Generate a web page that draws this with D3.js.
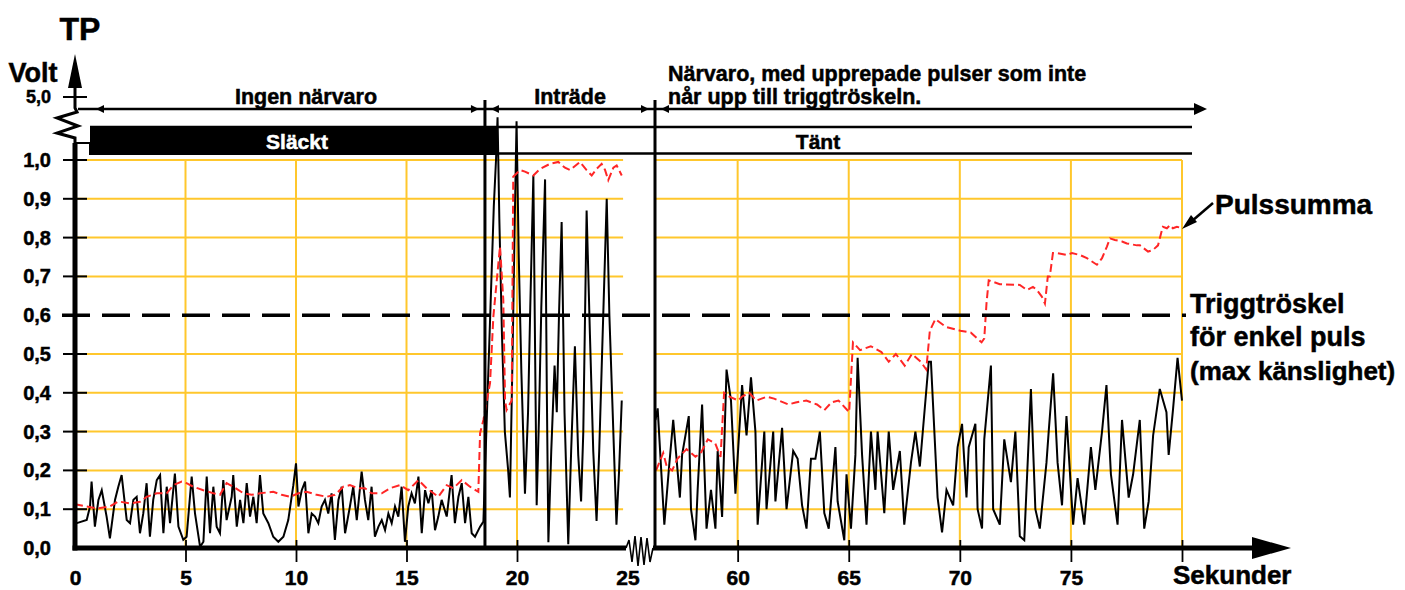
<!DOCTYPE html>
<html><head><meta charset="utf-8">
<script src="https://cdn.jsdelivr.net/npm/d3@7"></script>
<style>
html,body{margin:0;padding:0;background:#fff;}
svg{display:block;}
text{font-family:"Liberation Sans",Arial,sans-serif;font-weight:bold;fill:#000;stroke:#000;stroke-width:0.5px;}
</style>
</head><body>
<svg id="c" width="1405" height="590"></svg>
<script>
// ---------- DATA ----------
const xTickValues = [5, 10, 15, 20, 60, 65, 70, 75, 80];
const xLabelValues = [0, 5, 10, 15, 20, 25, 60, 65, 70, 75];
const yLabelValues = [0, 0.1, 0.2, 0.3, 0.4, 0.5, 0.6, 0.7, 0.8, 0.9, 1.0];
const yTickValues = [0.1, 0.2, 0.3, 0.4, 0.5, 0.6, 0.7, 0.8, 0.9, 1.0];
const gridLevels = [0.1, 0.2, 0.3, 0.4, 0.5, 0.7, 0.8, 0.9, 1.0];
const threshold = 0.6;
const breakLeftEnd = 24.8, breakRightStart = 56.28, xEnd = 80;
const presenceStart = 18.55, lampOn = 19.1;
const topLabel = "5,0";
const phaseLabels = ["Ingen närvaro", "Inträde"];
const phaseText3 = ["Närvaro, med upprepade pulser som inte", "når upp till triggtröskeln."];
const stateLabels = ["Släckt", "Tänt"];
const triggText = ["Triggtröskel", "för enkel puls", "(max känslighet)"];

// black pulse signal: [seconds, volt]
const signalFirst = [
[0.08,.064],[0.53,.072],[0.68,.107],[0.75,.171],[0.9,.055],[1.06,.124],[1.21,.149],[1.43,.081],[1.58,.025],[1.81,.124],
[1.96,.158],[2.11,.188],[2.34,.072],[2.49,.064],[2.64,.124],[2.79,.132],[2.94,.038],[3.09,.089],[3.24,.167],[3.39,.029],
[3.54,.124],[3.7,.175],[3.85,.188],[4.0,.038],[4.15,.158],[4.3,.064],[4.52,.192],[4.68,.055],[4.9,.021],[5.05,.029],
[5.28,.184],[5.43,.089],[5.66,.003],[5.81,.016],[5.96,.184],[6.11,.038],[6.26,.158],[6.41,.055],[6.56,.038],[6.71,.175],
[6.86,.072],[7.09,.132],[7.16,.188],[7.32,.055],[7.47,.124],[7.62,.064],[7.77,.167],[7.92,.081],[8.07,.132],[8.22,.064],
[8.37,.188],[8.52,.089],[8.75,.064],[8.97,.029],[9.2,.016],[9.43,.029],[9.65,.072],[9.88,.162],[10.0,.218],[10.11,.107],
[10.26,.149],[10.41,.171],[10.56,.038],[10.71,.089],[10.86,.081],[11.01,.064],[11.16,.107],[11.31,.124],[11.46,.089],[11.61,.141],
[11.76,.021],[11.92,.124],[12.07,.158],[12.22,.038],[12.44,.107],[12.59,.158],[12.75,.072],[12.97,.197],[13.12,.124],[13.27,.072],
[13.42,.158],[13.57,.029],[13.73,.055],[13.88,.072],[14.03,.046],[14.18,.089],[14.33,.064],[14.48,.107],[14.63,.081],[14.78,.158],
[14.93,.016],[15.08,.107],[15.23,.141],[15.38,.115],[15.54,.184],[15.69,.038],[15.84,.149],[15.99,.115],[16.14,.149],[16.29,.046],
[16.44,.081],[16.59,.124],[16.82,.081],[17.04,.188],[17.19,.064],[17.35,.132],[17.5,.167],[17.65,.064],[17.8,.132],[17.95,.038],
[18.1,.029],[18.33,.055],[18.48,.068],
[18.63,.33],[18.8,.62],[18.95,.88],[19.05,1.0],[19.12,1.11],[19.2,.85],[19.32,.55],[19.45,.3],[19.6,.2],[19.68,.13],
[19.8,.5],[19.9,.85],[19.98,1.1],[20.08,.75],[20.2,.45],[20.36,.14],[20.5,.35],[20.6,.62],[20.74,.96],[20.82,.5],
[20.89,.11],[21.0,.35],[21.1,.62],[21.27,.95],[21.35,.4],[21.42,.015],[21.55,.25],[21.7,.47],[21.8,.35],[21.9,.6],
[22.02,.84],[22.15,.35],[22.32,.01],[22.45,.25],[22.62,.52],[22.77,.24],[22.9,.12],[23.0,.3],[23.15,.87],[23.3,.55],
[23.45,.25],[23.6,.07],[23.72,.25],[23.85,.5],[24.06,.9],[24.18,.6],[24.3,.4],[24.5,.06],[24.62,.2],[24.74,.38]
];
const signalSecond = [
[56.3,.33],[56.4,.36],[56.7,.06],[56.9,.20],[57.1,.33],[57.4,.13],[57.5,.24],[57.8,.34],[57.9,.10],[58.1,.02],
[58.2,.15],[58.4,.37],[58.6,.05],[58.8,.15],[59.0,.05],[59.1,.25],[59.3,.08],[59.5,.46],[59.7,.38],[59.9,.14],
[60.2,.42],[60.4,.29],[60.6,.44],[60.8,.30],[60.9,.06],[61.2,.30],[61.3,.10],[61.6,.30],[61.7,.12],[62.0,.31],
[62.2,.10],[62.5,.25],[62.7,.23],[62.9,.11],[63.1,.05],[63.3,.23],[63.5,.23],[63.7,.30],[63.9,.09],[64.1,.05],
[64.4,.26],[64.5,.12],[64.8,.02],[64.9,.19],[65.1,.05],[65.3,.24],[65.4,.49],[65.6,.24],[65.8,.06],[66.0,.30],
[66.2,.15],[66.3,.30],[66.6,.09],[66.8,.30],[67.0,.15],[67.3,.25],[67.5,.06],[67.8,.22],[68.0,.30],[68.2,.21],
[68.6,.48],[68.7,.48],[69.0,.13],[69.2,.04],[69.4,.15],[69.7,.11],[69.9,.26],[70.1,.32],[70.3,.13],[70.4,.26],
[70.7,.32],[70.8,.10],[71.0,.05],[71.1,.28],[71.4,.47],[71.5,.10],[71.8,.06],[72.0,.28],[72.3,.17],[72.5,.30],
[72.7,.03],[72.9,.02],[73.2,.41],[73.4,.10],[73.6,.05],[73.9,.22],[74.0,.30],[74.2,.45],[74.4,.22],[74.6,.11],
[74.8,.34],[75.1,.06],[75.3,.18],[75.6,.06],[75.9,.26],[76.1,.15],[76.4,.30],[76.6,.42],[76.8,.19],[77.1,.06],
[77.3,.33],[77.6,.13],[77.8,.19],[78.1,.33],[78.3,.05],[78.5,.12],[78.7,.29],[79.0,.41],[79.3,.35],[79.4,.24],
[79.6,.36],[79.8,.49],[80.0,.38]
];
// red pulse sum: [seconds, volt]
const pulseSumFirst = [
[0,.113],[0.53,.107],[0.98,.102],[1.58,.107],[1.96,.12],[2.49,.115],[2.94,.119],[3.24,.132],[3.7,.141],[4.15,.141],
[4.45,.162],[4.83,.171],[5.05,.167],[5.35,.158],[5.81,.149],[6.26,.141],[6.56,.137],[6.86,.167],[7.16,.158],[7.62,.141],
[7.99,.137],[8.37,.141],[8.97,.145],[9.35,.137],[9.73,.132],[10.11,.141],[10.48,.145],[10.94,.137],[11.39,.132],[11.76,.137],
[12.14,.158],[12.44,.162],[12.82,.154],[13.12,.154],[13.42,.141],[13.88,.141],[14.25,.154],[14.71,.162],[15.08,.149],[15.54,.175],
[15.91,.154],[16.44,.132],[16.82,.162],[17.12,.154],[17.5,.175],[17.87,.158],[18.25,.145],[18.33,.296],[18.48,.33],[18.78,.425],
[18.93,.596],[19.23,.777],[19.38,.64],[19.46,.38],[19.53,.356],[19.76,.38],[19.83,.957],[20.14,.974],[20.36,.97],[20.74,.96],
[21.04,.977],[21.49,.99],[21.87,.995],[22.17,.98],[22.4,.974],[22.85,.995],[23.15,.974],[23.38,.96],[23.6,.977],[23.83,.99],
[23.98,.975],[24.13,.948],[24.36,.98],[24.51,.986],[24.74,.96]
];
const pulseSumSecond = [
[56.33,.20],[56.65,.245],[56.81,.21],[57.05,.20],[57.29,.23],[57.7,.255],[58.1,.235],[58.34,.245],[58.66,.28],[58.99,.27],
[59.23,.235],[59.39,.40],[59.63,.39],[60.03,.38],[60.19,.39],[60.52,.40],[60.84,.38],[61.32,.39],[61.64,.385],[62.29,.37],
[62.61,.375],[63.09,.38],[63.57,.37],[63.9,.355],[64.22,.375],[64.54,.38],[65.02,.35],[65.19,.53],[65.51,.51],[65.99,.52],
[66.47,.505],[66.8,.48],[67.12,.50],[67.52,.47],[67.84,.50],[68.24,.48],[68.49,.46],[68.65,.56],[68.9,.59],[69.37,.57],
[70.02,.56],[70.5,.555],[70.98,.53],[71.1,.54],[71.2,.63],[71.3,.69],[71.8,.68],[72.7,.678],[73.02,.665],[73.29,.673],
[73.47,.665],[73.69,.648],[73.83,.63],[73.96,.70],[74.05,.70],[74.19,.76],[74.37,.76],[74.82,.755],[75.05,.76],[75.41,.755],
[75.72,.747],[76.17,.73],[76.4,.747],[76.62,.777],[76.76,.798],[76.98,.794],[77.3,.79],[77.52,.785],[77.97,.78],[78.11,.78],
[78.47,.764],[78.69,.768],[78.92,.78],[79.1,.82],[79.14,.828],[79.32,.824],[79.46,.832],[79.59,.824],[79.77,.828],[80,.824]
];

// ---------- SCALES ----------
const svg = d3.select("#c");
const x = d3.scaleLinear().domain([0, 25, breakRightStart, xEnd]).range([75, 627.5, 655, 1182]);
const y = d3.scaleLinear().domain([0, 1]).range([548, 160]);
const YELLOW = "#FFC72C", RED = "#FF2626";
const fmt = d => d3.format(".1f")(d).replace(".", ",");

// ---------- GRID ----------
const grid = svg.append("g");
grid.selectAll("line.h1").data(gridLevels).join("line").attr("class","h1")
  .attr("x1", x(0)).attr("x2", x(breakLeftEnd)).attr("y1", d => y(d)).attr("y2", d => y(d))
  .attr("stroke", YELLOW).attr("stroke-width", 2);
grid.selectAll("line.h2").data(gridLevels).join("line").attr("class","h2")
  .attr("x1", x(breakRightStart)).attr("x2", x(xEnd)).attr("y1", d => y(d)).attr("y2", d => y(d))
  .attr("stroke", YELLOW).attr("stroke-width", 2);
grid.selectAll("line.v").data(xTickValues).join("line").attr("class","v")
  .attr("x1", d => x(d)).attr("x2", d => x(d)).attr("y1", y(0)).attr("y2", y(1))
  .attr("stroke", YELLOW).attr("stroke-width", 2);

// ---------- TOP STRUCTURE ----------
const topG = svg.append("g");
topG.append("line").attr("x1", 78).attr("x2", 1196).attr("y1", 109).attr("y2", 109).attr("stroke", "#000").attr("stroke-width", 2.5);
topG.append("path").attr("d", "M1194,103 L1207,109 L1194,115 Z").attr("fill", "#000");
function arrowHead(tip, dir) {
  topG.append("path").attr("d", `M${tip},109 L${tip - dir*8},105 L${tip - dir*8},113 Z`).attr("fill", "#000");
}
arrowHead(96, -1); arrowHead(x(presenceStart) - 6, 1); arrowHead(x(presenceStart) + 6, -1);
arrowHead(x(breakRightStart) - 6, 1); arrowHead(x(breakRightStart) + 6, -1);
topG.append("rect").attr("x", 90).attr("y", 126).attr("width", x(lampOn) - 90).attr("height", 29).attr("fill", "#000");
topG.append("line").attr("x1", 90).attr("x2", 1192).attr("y1", 127).attr("y2", 127).attr("stroke", "#000").attr("stroke-width", 2.5);
topG.append("line").attr("x1", x(lampOn)).attr("x2", 1192).attr("y1", 153.5).attr("y2", 153.5).attr("stroke", "#000").attr("stroke-width", 2.5);
topG.append("line").attr("x1", 75).attr("x2", 90).attr("y1", 143).attr("y2", 143).attr("stroke", "#000").attr("stroke-width", 2);
topG.append("line").attr("x1", 90).attr("x2", 90).attr("y1", 143).attr("y2", 155).attr("stroke", "#000").attr("stroke-width", 2);

// ---------- SIGNALS ----------
const line = d3.line().x(d => x(d[0])).y(d => y(d[1]));
[signalFirst, signalSecond].forEach(s => {
  svg.append("path").attr("d", line(s)).attr("fill", "none").attr("stroke", "#000").attr("stroke-width", 2).attr("stroke-linejoin", "miter");
});
[pulseSumFirst, pulseSumSecond].forEach(s => {
  svg.append("path").attr("d", line(s)).attr("fill", "none").attr("stroke", RED).attr("stroke-width", 2).attr("stroke-dasharray", "8,4");
});

[presenceStart, breakRightStart].forEach(t => {
  svg.append("line").attr("x1", x(t)).attr("x2", x(t)).attr("y1", 100).attr("y2", 548).attr("stroke", "#000").attr("stroke-width", 3);
});

svg.append("line").attr("x1", 62).attr("x2", 1186).attr("y1", y(threshold)).attr("y2", y(threshold))
  .attr("stroke", "#000").attr("stroke-width", 3.5).attr("stroke-dasharray", "28,12");

// ---------- AXES ----------
svg.append("line").attr("x1", 75).attr("x2", 75).attr("y1", 550.5).attr("y2", 143).attr("stroke", "#000").attr("stroke-width", 5);
svg.append("path").attr("d", "M75,143 L75,138 L57,133 L78,126 L57,118 L77,112 L75,108 L75,80")
  .attr("fill", "none").attr("stroke", "#000").attr("stroke-width", 3).attr("stroke-linejoin", "miter");
svg.append("path").attr("d", "M75,54 L82,88 L68,88 Z").attr("fill", "#000");
svg.selectAll("line.yt").data(yTickValues).join("line").attr("class", "yt")
  .attr("x1", 63).attr("x2", 87).attr("y1", d => y(d)).attr("y2", d => y(d))
  .attr("stroke", "#000").attr("stroke-width", 2);
svg.append("line").attr("x1", 63).attr("x2", 87).attr("y1", 97).attr("y2", 97).attr("stroke", "#000").attr("stroke-width", 2);
const yAx = svg.append("g").attr("transform", "translate(75,0)")
  .call(d3.axisLeft(y).tickValues(yLabelValues).tickSize(0).tickPadding(24).tickFormat(fmt));
yAx.select(".domain").remove();
yAx.selectAll("text").attr("font-size", 20).attr("font-family", "Liberation Sans, Arial, sans-serif").attr("font-weight", "bold");
svg.append("text").attr("x", 51).attr("y", 97).attr("dy", "0.35em").attr("text-anchor", "end").attr("font-size", 18).text(topLabel);

svg.append("line").attr("x1", 72.5).attr("x2", 626).attr("y1", 548).attr("y2", 548).attr("stroke", "#000").attr("stroke-width", 5);
svg.append("line").attr("x1", 653).attr("x2", 1258).attr("y1", 548).attr("y2", 548).attr("stroke", "#000").attr("stroke-width", 5);
svg.append("path").attr("d", "M1252,537 L1291,548 L1252,559 Z").attr("fill", "#000");
svg.append("path").attr("d", "M626,548 L629,540 L632,562 L635,536 L638,566 L641,537 L644,565 L647,538 L650,562 L653,548")
  .attr("fill", "none").attr("stroke", "#000").attr("stroke-width", 1.6);
const xt = svg.append("g").attr("transform", "translate(0,548)")
  .call(d3.axisBottom(x).tickValues(xTickValues).tickSize(14).tickFormat(""));
xt.select(".domain").remove();
xt.selectAll("line").attr("stroke", "#000").attr("stroke-width", 1.8).attr("y1", -8);
const xl = svg.append("g").attr("transform", "translate(0,548)")
  .call(d3.axisBottom(x).tickValues(xLabelValues).tickSize(0).tickPadding(22).tickFormat(d3.format("d")));
xl.select(".domain").remove();
xl.selectAll("text").attr("font-size", 21).attr("font-family", "Liberation Sans, Arial, sans-serif").attr("font-weight", "bold");

// ---------- TEXTS ----------
svg.append("text").attr("x", 80).attr("y", 40).attr("text-anchor", "middle").attr("font-size", 32).text("TP");
svg.append("text").attr("x", 33).attr("y", 82).attr("text-anchor", "middle").attr("font-size", 27).text("Volt");
svg.append("text").attr("x", 1173).attr("y", 584).attr("font-size", 26).text("Sekunder");
svg.append("text").attr("x", 306).attr("y", 104).attr("text-anchor", "middle").attr("font-size", 21.5).text(phaseLabels[0]);
svg.append("text").attr("x", 570).attr("y", 104).attr("text-anchor", "middle").attr("font-size", 21.5).text(phaseLabels[1]);
svg.append("text").attr("x", 668).attr("y", 81).attr("font-size", 21.5).text(phaseText3[0]);
svg.append("text").attr("x", 668).attr("y", 104).attr("font-size", 21.5).text(phaseText3[1]);
svg.append("text").attr("x", 297).attr("y", 149).attr("text-anchor", "middle").attr("font-size", 21).style("fill", "#fff").style("stroke", "#fff").text(stateLabels[0]);
svg.append("text").attr("x", 818).attr("y", 149).attr("text-anchor", "middle").attr("font-size", 21).text(stateLabels[1]);
svg.append("text").attr("x", 1215).attr("y", 214).attr("font-size", 28).text("Pulssumma");
svg.append("line").attr("x1", 1213).attr("y1", 203).attr("x2", 1192).attr("y2", 221).attr("stroke", "#000").attr("stroke-width", 2.5);
svg.append("path").attr("d", "M1182,229 L1197,222 L1191,215 Z").attr("fill", "#000");
svg.append("text").attr("x", 1190).attr("y", 313).attr("font-size", 27).text(triggText[0]);
svg.append("text").attr("x", 1190).attr("y", 346).attr("font-size", 27).text(triggText[1]);
svg.append("text").attr("x", 1190).attr("y", 380).attr("font-size", 26).text(triggText[2]);
</script>
</body></html>
